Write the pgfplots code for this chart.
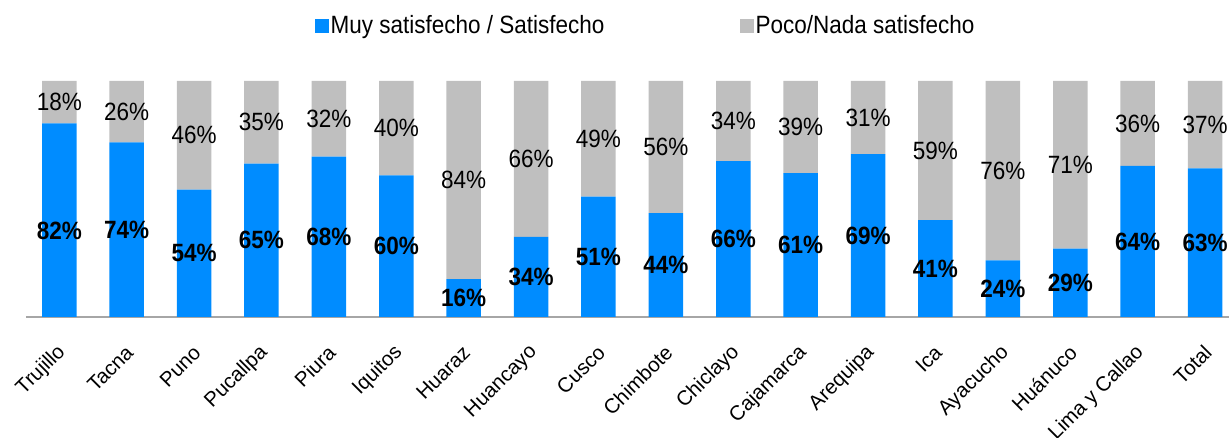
\documentclass[border=0pt]{standalone}
\usepackage{pgfplots}
\pgfplotsset{compat=1.18}
\usepackage{fontspec}
\setmainfont{Liberation Sans}
\newfontfamily\condfont[FakeStretch=0.9]{Liberation Sans}
\definecolor{myblue}{RGB}{0,140,255}
\definecolor{mygray}{RGB}{191,191,191}
\definecolor{axisgray}{RGB}{166,166,166}
% x, values, and label positions
\pgfplotstableread{
x blue gray bmid gmid
0 82 18 36.5 91
1 74 26 37 87
2 54 46 27 77
3 65 35 32.5 82.5
4 68 32 34 84
5 60 40 30 80
6 16 84 8 58
7 34 66 17 67
8 51 49 25.5 75.5
9 44 56 22 72
10 66 34 33 83
11 61 39 30.5 80.5
12 69 31 34.5 84.5
13 41 59 20.5 70.5
14 24 76 12 62
15 29 71 14.5 64.5
16 64 36 32 82
17 63 37 31.5 81.5
}\datatable
\pgfplotsset{
  common/.style={
    at={(0,0)}, anchor=south west,
    scale only axis, width=1203pt, height=236pt,
    xmin=-0.494, xmax=17.355, ymin=0, ymax=100,
    clip=false,
  }
}
\begin{document}
\begin{tikzpicture}
\begin{axis}[
  common,
  ybar stacked, bar width=34.5pt,
  axis x line=bottom, axis y line=none,
  x axis line style={-, draw=axisgray, line width=1.5pt},
  xtick={0,...,17}, xtick style={draw=none},
  xticklabels={Trujillo,Tacna,Puno,Pucallpa,Piura,Iquitos,Huaraz,Huancayo,Cusco,Chimbote,Chiclayo,Cajamarca,Arequipa,Ica,Ayacucho,Huánuco,Lima y Callao,Total},
  xticklabel style={font=\fontsize{20.5}{24}\selectfont, inner sep=0pt, xshift=3pt, yshift=-30pt, rotate=45, anchor=east},
  legend style={at={(0.515,1.235)}, anchor=center, draw=none, fill=none, legend columns=2,
    font=\condfont\fontsize{25}{30}\selectfont,
    /tikz/every even column/.append style={column sep=133pt}},
]
\addplot[fill=myblue, draw=none,
  legend image code/.code={\fill[myblue] (-3pt,-7pt) rectangle (11pt,7pt);}]
  table[x=x, y=blue] {\datatable};
\addlegendentry{Muy satisfecho / Satisfecho}
\addplot[fill=mygray, draw=none,
  legend image code/.code={\fill[mygray] (-3pt,-7pt) rectangle (11pt,7pt);}]
  table[x=x, y=gray] {\datatable};
\addlegendentry{Poco/Nada satisfecho}
\end{axis}
\begin{axis}[common, hide axis]
\addplot[draw=none, mark=none, point meta=explicit symbolic,
  nodes near coords={\pgfplotspointmeta\%},
  every node near coord/.append style={anchor=center, text=black,
    font=\condfont\bfseries\fontsize{25}{30}\selectfont}]
  table[x=x, y=bmid, meta=blue] {\datatable};
\addplot[draw=none, mark=none, point meta=explicit symbolic,
  nodes near coords={\pgfplotspointmeta\%},
  every node near coord/.append style={anchor=center, text=black,
    font=\condfont\fontsize{25}{30}\selectfont}]
  table[x=x, y=gmid, meta=gray] {\datatable};
\end{axis}
\pgfresetboundingbox
\path[use as bounding box] (-26pt,-121pt) rectangle (1203pt,317pt);
\end{tikzpicture}
\end{document}
